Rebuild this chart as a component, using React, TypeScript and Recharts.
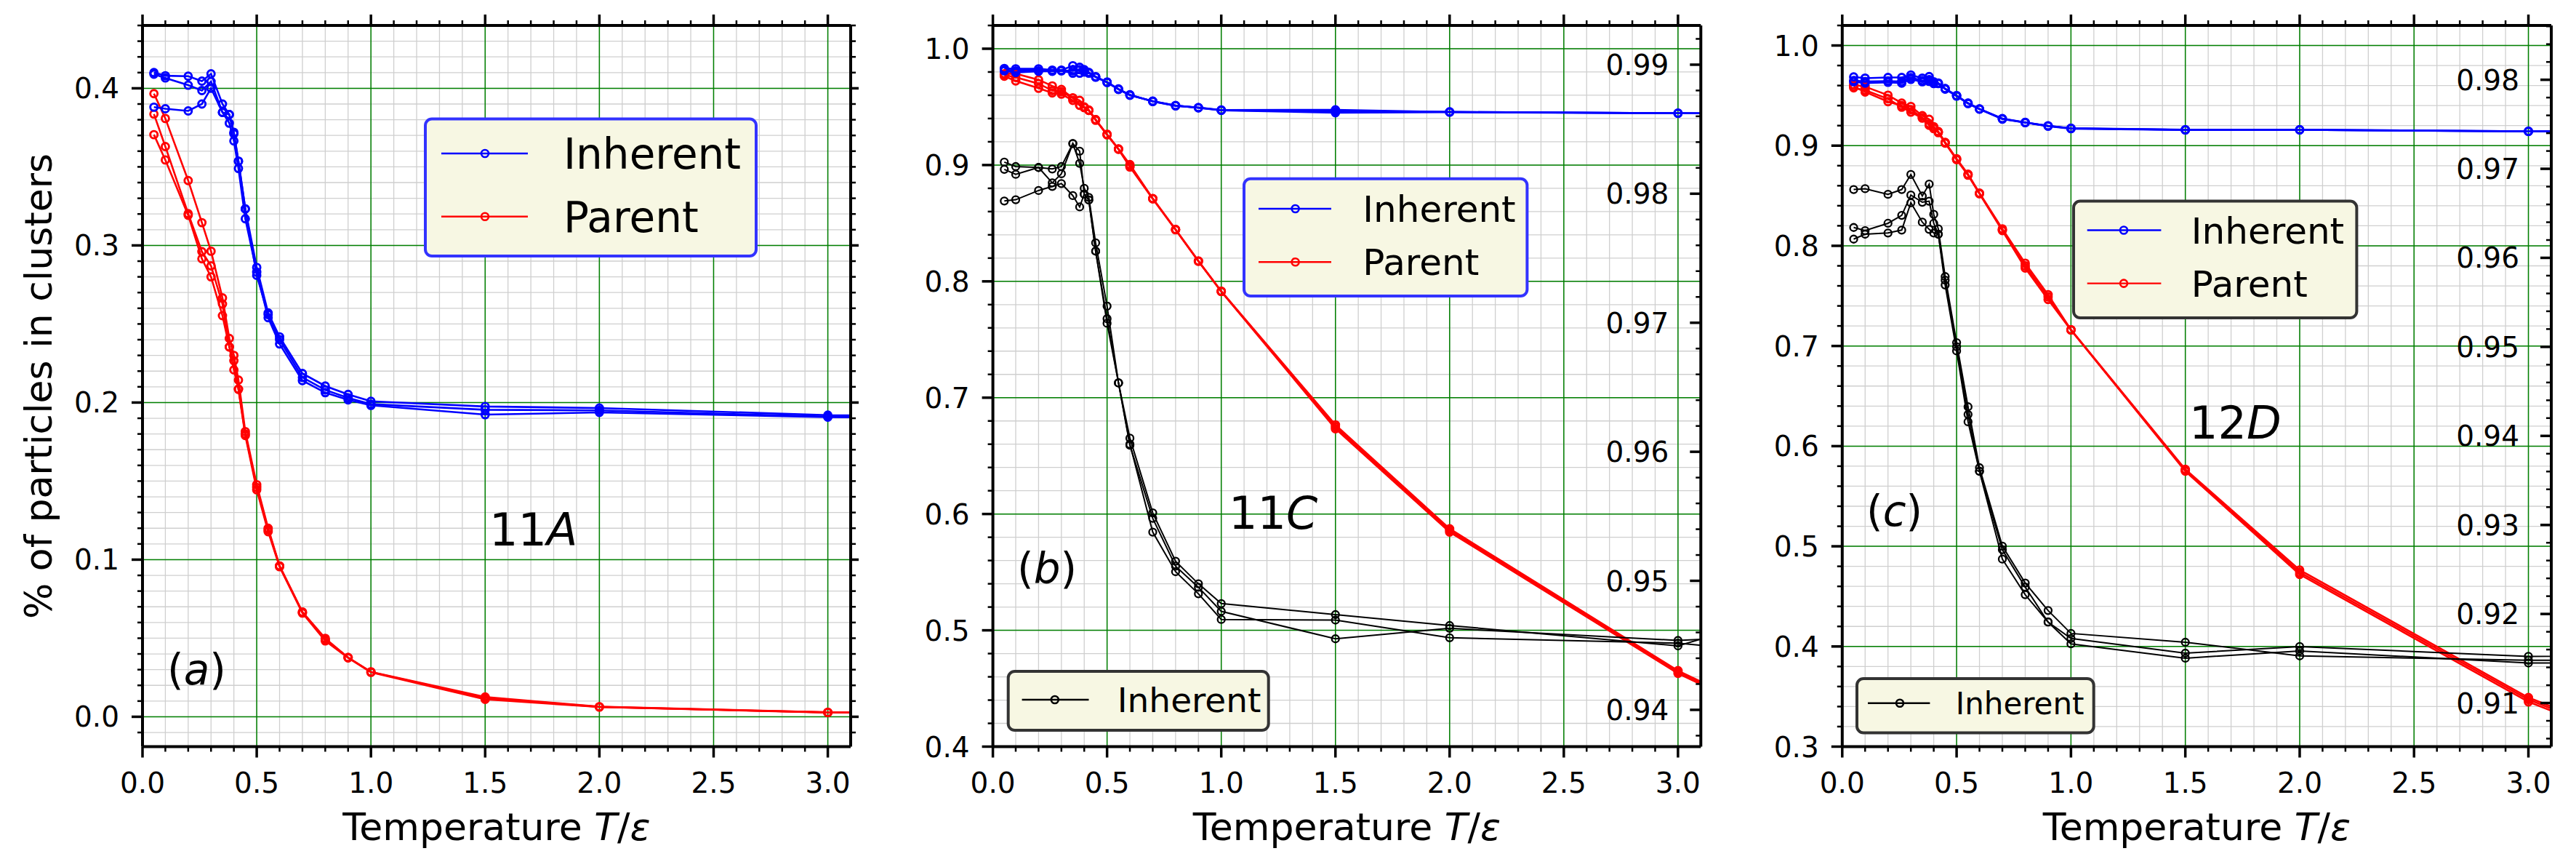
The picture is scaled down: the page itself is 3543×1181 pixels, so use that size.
import { CartesianGrid, Line, LineChart, XAxis, YAxis } from "recharts";

const FONT = "'DejaVu Sans', sans-serif";

// temperatures T/eps shared by every run (4.0 lies past the right edge)
const temps = [0.05, 0.1, 0.2, 0.26, 0.3, 0.35, 0.38, 0.4, 0.42, 0.45, 0.5, 0.55, 0.6, 0.7, 0.8, 0.9, 1.0, 1.5, 2.0, 3.0, 4.0];

// (a) 11A
const aInherent1 = [0.41, 0.408, 0.4077, 0.4046, 0.4092, 0.39, 0.3833, 0.372, 0.3536, 0.3232, 0.286, 0.257, 0.2418, 0.2185, 0.2105, 0.2052, 0.2008, 0.1975, 0.1965, 0.192, 0.191];
const aInherent2 = [0.409, 0.4066, 0.402, 0.3986, 0.4043, 0.3847, 0.3778, 0.3665, 0.349, 0.317, 0.283, 0.254, 0.2373, 0.214, 0.2063, 0.2017, 0.1982, 0.1923, 0.1937, 0.1907, 0.19];
const aInherent3 = [0.388, 0.387, 0.3856, 0.39, 0.4, 0.3847, 0.3833, 0.371, 0.3536, 0.3232, 0.281, 0.256, 0.24, 0.216, 0.208, 0.203, 0.199, 0.1954, 0.195, 0.191, 0.1905];
const aParent1 = [0.3966, 0.3808, 0.3413, 0.3145, 0.2963, 0.2666, 0.2408, 0.23, 0.2143, 0.1815, 0.1477, 0.12, 0.096, 0.0667, 0.0499, 0.0377, 0.0286, 0.0126, 0.0064, 0.0028, 0.002];
const aParent2 = [0.3836, 0.3629, 0.3202, 0.296, 0.287, 0.2627, 0.2354, 0.2266, 0.2085, 0.179, 0.1445, 0.1178, 0.0955, 0.066, 0.0483, 0.0375, 0.0283, 0.0111, 0.0062, 0.0027, 0.002];
const aParent3 = [0.3705, 0.3544, 0.3192, 0.2915, 0.28, 0.2553, 0.2354, 0.2208, 0.2085, 0.18, 0.146, 0.119, 0.096, 0.0665, 0.049, 0.0377, 0.0285, 0.012, 0.0063, 0.0028, 0.002];

// (b) 11C
const bInherent1 = [0.983, 0.9827, 0.9827, 0.9816, 0.9816, 0.9854, 0.984, 0.982, 0.9796, 0.976, 0.9712, 0.9654, 0.9604, 0.9546, 0.951, 0.9494, 0.9473, 0.9475, 0.9456, 0.9446, 0.944];
const bInherent2 = [0.981, 0.9795, 0.9806, 0.9806, 0.981, 0.979, 0.979, 0.98, 0.979, 0.9755, 0.971, 0.965, 0.96, 0.955, 0.9512, 0.9492, 0.947, 0.945, 0.9455, 0.9445, 0.944];
const bInherent3 = [0.982, 0.981, 0.981, 0.981, 0.9812, 0.981, 0.982, 0.981, 0.9795, 0.9758, 0.9713, 0.9652, 0.9602, 0.9548, 0.951, 0.9493, 0.9472, 0.946, 0.9457, 0.9446, 0.944];
const bParent1 = [0.9785, 0.9785, 0.9733, 0.968, 0.965, 0.9577, 0.9556, 0.9494, 0.9473, 0.939, 0.9264, 0.9139, 0.9004, 0.8712, 0.8446, 0.8175, 0.7915, 0.6766, 0.5873, 0.4653, 0.372];
const bParent2 = [0.9775, 0.9754, 0.97, 0.964, 0.963, 0.9577, 0.9514, 0.95, 0.947, 0.9385, 0.926, 0.9135, 0.8983, 0.871, 0.8444, 0.8173, 0.7913, 0.6733, 0.5845, 0.463, 0.37];
const bParent3 = [0.9764, 0.9723, 0.966, 0.962, 0.961, 0.9556, 0.9514, 0.9494, 0.947, 0.939, 0.9262, 0.9137, 0.899, 0.8711, 0.8445, 0.8174, 0.7914, 0.675, 0.586, 0.4645, 0.371];
const bTwin1 = [0.9025, 0.8987, 0.8979, 0.8966, 0.8987, 0.9185, 0.9014, 0.88, 0.8722, 0.8331, 0.7787, 0.7127, 0.6652, 0.601, 0.5594, 0.54, 0.523, 0.5135, 0.5041, 0.4866, 0.545];
const bTwin2 = [0.8963, 0.892, 0.8979, 0.8847, 0.8925, 0.9185, 0.9119, 0.875, 0.87, 0.826, 0.7679, 0.7127, 0.6591, 0.5963, 0.5551, 0.537, 0.5163, 0.4927, 0.5017, 0.4913, 0.5];
const bTwin3 = [0.8691, 0.8702, 0.8781, 0.8816, 0.8841, 0.8737, 0.864, 0.875, 0.87, 0.826, 0.764, 0.7127, 0.66, 0.5844, 0.5504, 0.5314, 0.5093, 0.5088, 0.4936, 0.489, 0.47];

// (c) 12D
const cInherent1 = [0.9686, 0.9674, 0.9681, 0.9681, 0.9705, 0.9674, 0.969, 0.9638, 0.9625, 0.957, 0.95, 0.9425, 0.9367, 0.927, 0.9232, 0.9198, 0.9174, 0.9159, 0.9159, 0.9143, 0.914];
const cInherent2 = [0.9638, 0.9625, 0.9633, 0.9625, 0.9662, 0.9638, 0.9642, 0.962, 0.962, 0.9565, 0.9495, 0.942, 0.9365, 0.9265, 0.923, 0.9195, 0.917, 0.9157, 0.9158, 0.9142, 0.914];
const cInherent3 = [0.965, 0.964, 0.9645, 0.964, 0.968, 0.965, 0.966, 0.963, 0.9622, 0.9568, 0.9498, 0.9423, 0.9366, 0.9268, 0.9231, 0.9197, 0.9172, 0.9158, 0.9158, 0.9143, 0.914];
const cParent1 = [0.9609, 0.9589, 0.9504, 0.9425, 0.9391, 0.93, 0.9263, 0.919, 0.9142, 0.9033, 0.887, 0.8715, 0.8526, 0.8169, 0.7826, 0.7512, 0.7162, 0.5768, 0.4763, 0.349, 0.26];
const cParent2 = [0.9577, 0.9553, 0.9468, 0.9384, 0.9335, 0.9275, 0.9203, 0.917, 0.913, 0.9025, 0.886, 0.8705, 0.852, 0.8152, 0.7778, 0.7464, 0.716, 0.575, 0.4719, 0.3447, 0.256];
const cParent3 = [0.959, 0.9536, 0.9439, 0.94, 0.936, 0.928, 0.922, 0.918, 0.9135, 0.903, 0.8865, 0.871, 0.8523, 0.816, 0.78, 0.749, 0.7161, 0.576, 0.474, 0.347, 0.258];
const cTwin1 = [0.8562, 0.857, 0.8514, 0.8562, 0.8712, 0.8497, 0.8616, 0.8314, 0.8169, 0.7693, 0.7033, 0.6393, 0.5785, 0.5002, 0.4633, 0.4359, 0.413, 0.4042, 0.3906, 0.3862, 0.386];
const cTwin2 = [0.8183, 0.8152, 0.8225, 0.8304, 0.8507, 0.8435, 0.8446, 0.8225, 0.8116, 0.7657, 0.6993, 0.6316, 0.5749, 0.4966, 0.4593, 0.4244, 0.408, 0.3933, 0.3999, 0.3901, 0.392];
const cTwin3 = [0.8067, 0.8116, 0.8128, 0.8157, 0.843, 0.8236, 0.8164, 0.8128, 0.8116, 0.7609, 0.6951, 0.6243, 0.5749, 0.4872, 0.4517, 0.4244, 0.4026, 0.3883, 0.3955, 0.3835, 0.383];

// ticks
const xMajor = [0, 0.5, 1, 1.5, 2, 2.5, 3];
const xMinor = Array.from({ length: 31 }, (_, i) => i / 10);
const aYMajor = [0, 0.1, 0.2, 0.3, 0.4];
const aYMinor = Array.from({ length: 46 }, (_, i) => (i - 1) / 100);
const bYMajor = [0.4, 0.5, 0.6, 0.7, 0.8, 0.9, 1.0];
const bYMinor = Array.from({ length: 32 }, (_, i) => (20 + i) / 50);
const cYMajor = [0.3, 0.4, 0.5, 0.6, 0.7, 0.8, 0.9, 1.0];
const cYMinor = Array.from({ length: 37 }, (_, i) => (15 + i) / 50);
const bRightMajor = [0.94, 0.95, 0.96, 0.97, 0.98, 0.99];
const bRightMinor = Array.from({ length: 28 }, (_, i) => (469 + i) / 500);
const cRightMajor = [0.91, 0.92, 0.93, 0.94, 0.95, 0.96, 0.97, 0.98];
const cRightMinor = Array.from({ length: 41 }, (_, i) => (453 + i) / 500);

const BLUE = "#0000ff";
const RED = "#ff0000";
const BLACK = "#000000";

const near = (v: number, list: number[]) => list.some((m) => Math.abs(m - v) < 1e-6);
const spine = { stroke: "#000", strokeWidth: 4 };

function xTick(dir: number, labels: boolean) {
  return (p: any) => {
    const v = p.payload.value;
    const major = near(v, xMajor);
    return (
      <g>
        <line x1={p.x} y1={p.y} x2={p.x} y2={p.y + dir * (major ? 15 : 7)} stroke="#000" strokeWidth={major ? 3.5 : 2.5} />
        {labels && major && (
          <text x={p.x} y={p.y + 63} textAnchor="middle" fontFamily={FONT} fontSize={39} fill="#000">
            {v.toFixed(1)}
          </text>
        )}
      </g>
    );
  };
}

function yTick(majors: number[], dir: number, label: "out" | "in" | "none", digits: number) {
  return (p: any) => {
    const v = p.payload.value;
    const major = near(v, majors);
    return (
      <g>
        <line x1={p.x} y1={p.y} x2={p.x + dir * (major ? 15 : 7)} y2={p.y} stroke="#000" strokeWidth={major ? 3.5 : 2.5} />
        {label === "out" && major && (
          <text x={p.x - 32} y={p.y + 14} textAnchor="end" fontFamily={FONT} fontSize={39} fill="#000">
            {v.toFixed(digits)}
          </text>
        )}
        {label === "in" && major && (
          <text x={p.x - 44} y={p.y + 14} textAnchor="end" fontFamily={FONT} fontSize={39} fill="#000">
            {v.toFixed(digits)}
          </text>
        )}
      </g>
    );
  };
}

type Series = { key: string; values: number[]; color: string };

type PanelProps = {
  left: number;
  margin: { top: number; right: number; bottom: number; left: number };
  series: Series[];
  yDomain: [number, number];
  yTicks: number[];
  yMajor: number[];
  rightDomain?: [number, number];
  rightTicks?: number[];
  rightMajor?: number[];
};

function Panel(props: PanelProps) {
  const rows = temps.map((t, i) => {
    const row: Record<string, number> = { t };
    props.series.forEach((s) => {
      row[s.key] = s.values[i];
    });
    return row;
  });
  const twin = !!props.rightDomain;

  return (
    <div style={{ position: "absolute", left: props.left, top: 0 }}>
      <LineChart width={1181} height={1181} data={rows} margin={props.margin}>
        <CartesianGrid stroke="#cfcfcf" strokeWidth={1.3} />
        <CartesianGrid stroke="#008000" strokeWidth={1.5} horizontalValues={props.yMajor} verticalValues={xMajor} />
        <XAxis
          dataKey="t"
          type="number"
          domain={[0, 3.1]}
          allowDataOverflow
          ticks={xMinor}
          interval={0}
          tickSize={0}
          tickMargin={0}
          tickLine={false}
          axisLine={spine}
          height={60}
          tick={xTick(1, true)}
        />
        <XAxis
          xAxisId="top"
          orientation="top"
          dataKey="t"
          type="number"
          domain={[0, 3.1]}
          allowDataOverflow
          ticks={xMinor}
          interval={0}
          tickSize={0}
          tickMargin={0}
          tickLine={false}
          axisLine={spine}
          height={1}
          tick={xTick(-1, false)}
        />
        <YAxis
          type="number"
          domain={props.yDomain}
          allowDataOverflow
          ticks={props.yTicks}
          interval={0}
          tickSize={0}
          tickMargin={0}
          tickLine={false}
          axisLine={spine}
          width={100}
          tick={yTick(props.yMajor, -1, "out", 1)}
        />
        {twin ? (
          <YAxis
            yAxisId="right"
            orientation="right"
            type="number"
            domain={props.rightDomain}
            allowDataOverflow
            ticks={props.rightTicks}
            interval={0}
            tickSize={0}
            tickMargin={0}
            tickLine={false}
            axisLine={spine}
            width={1}
            tick={yTick(props.rightMajor || [], -1, "in", 2)}
          />
        ) : (
          <YAxis
            yAxisId="right"
            orientation="right"
            type="number"
            domain={props.yDomain}
            allowDataOverflow
            ticks={props.yTicks}
            interval={0}
            tickSize={0}
            tickMargin={0}
            tickLine={false}
            axisLine={spine}
            width={1}
            tick={yTick(props.yMajor, 1, "none", 1)}
          />
        )}
        {props.series.map((s) => {
          const dark = s.color === BLACK;
          return (
            <Line
              key={s.key}
              type="linear"
              dataKey={s.key}
              stroke={s.color}
              strokeWidth={dark ? 2 : 2.6}
              dot={{ r: 5, stroke: s.color, strokeWidth: dark ? 2.3 : 2.9, fill: "none" }}
              activeDot={false}
              isAnimationActive={false}
            />
          );
        })}
      </LineChart>
    </div>
  );
}

function LegendRow({ y, x0, x1, xm, xt, color, label, fs }: any) {
  return (
    <g>
      <line x1={x0} y1={y} x2={x1} y2={y} stroke={color} strokeWidth={2.4} />
      <circle cx={xm} cy={y} r={5} stroke={color} strokeWidth={2.6} fill="none" />
      <text x={xt} y={y + fs * 0.36} fontFamily={FONT} fontSize={fs} fill="#000">
        {label}
      </text>
    </g>
  );
}

function Frame({ x, y, w, h, edge }: any) {
  return <rect x={x} y={y} width={w} height={h} rx={9} fill="#f7f7e3" stroke={edge} strokeWidth={4} />;
}

function XLabel({ cx }: { cx: number }) {
  return (
    <text x={cx} y={1155} textAnchor="middle" fontFamily={FONT} fontSize={52} fill="#000">
      Temperature <tspan fontStyle="italic">T</tspan>/<tspan fontStyle="italic">ε</tspan>
    </text>
  );
}

function Tag({ x, y, pre, it, post, fs }: any) {
  return (
    <text x={x} y={y} fontFamily={FONT} fontSize={fs} fill="#000">
      {pre}
      <tspan fontStyle="italic">{it}</tspan>
      {post}
    </text>
  );
}

export default function App() {
  return (
    <div style={{ position: "absolute", left: 0, top: 0, width: 3543, height: 1181, background: "#fff" }}>
      <Panel
        left={0}
        margin={{ top: 34, right: 10, bottom: 94.5, left: 96 }}
        series={[
          { key: "p1", values: aParent1, color: RED },
          { key: "p2", values: aParent2, color: RED },
          { key: "p3", values: aParent3, color: RED },
          { key: "i1", values: aInherent1, color: BLUE },
          { key: "i2", values: aInherent2, color: BLUE },
          { key: "i3", values: aInherent3, color: BLUE },
        ]}
        yDomain={[-0.019, 0.44]}
        yTicks={aYMinor}
        yMajor={aYMajor}
      />
      <Panel
        left={1181}
        margin={{ top: 34, right: 21.7, bottom: 94.5, left: 84.6 }}
        series={[
          { key: "p1", values: bParent1, color: RED },
          { key: "p2", values: bParent2, color: RED },
          { key: "p3", values: bParent3, color: RED },
          { key: "i1", values: bInherent1, color: BLUE },
          { key: "i2", values: bInherent2, color: BLUE },
          { key: "i3", values: bInherent3, color: BLUE },
          { key: "k1", values: bTwin1, color: BLACK },
          { key: "k2", values: bTwin2, color: BLACK },
          { key: "k3", values: bTwin3, color: BLACK },
        ]}
        yDomain={[0.4, 1.02]}
        yTicks={bYMinor}
        yMajor={bYMajor}
        rightDomain={[0.93715, 0.99304]}
        rightTicks={bRightMinor}
        rightMajor={bRightMajor}
      />
      <Panel
        left={2362}
        margin={{ top: 34, right: 33, bottom: 94.5, left: 71.8 }}
        series={[
          { key: "p1", values: cParent1, color: RED },
          { key: "p2", values: cParent2, color: RED },
          { key: "p3", values: cParent3, color: RED },
          { key: "i1", values: cInherent1, color: BLUE },
          { key: "i2", values: cInherent2, color: BLUE },
          { key: "i3", values: cInherent3, color: BLUE },
          { key: "k1", values: cTwin1, color: BLACK },
          { key: "k2", values: cTwin2, color: BLACK },
          { key: "k3", values: cTwin3, color: BLACK },
        ]}
        yDomain={[0.3, 1.02]}
        yTicks={cYMinor}
        yMajor={cYMajor}
        rightDomain={[0.9051, 0.9861]}
        rightTicks={cRightMinor}
        rightMajor={cRightMajor}
      />
      <svg
        width={3543}
        height={1181}
        style={{ position: "absolute", left: 0, top: 0, pointerEvents: "none" }}
      >
        {/* axis labels */}
        <text transform="translate(71,531) rotate(-90)" textAnchor="middle" fontFamily={FONT} fontSize={52} fill="#000">
          % of particles in clusters
        </text>
        <XLabel cx={683} />
        <XLabel cx={1852.5} />
        <XLabel cx={3021.4} />

        {/* panel tags */}
        <Tag x={673} y={750} pre="11" it="A" post="" fs={62} />
        <Tag x={230} y={941} pre="(" it="a" post=")" fs={58} />
        <Tag x={1690} y={727} pre="11" it="C" post="" fs={62} />
        <Tag x={1399} y={802} pre="(" it="b" post=")" fs={58} />
        <Tag x={3011} y={603} pre="12" it="D" post="" fs={62} />
        <Tag x={2567} y={723} pre="(" it="c" post=")" fs={58} />

        {/* legend (a) */}
        <Frame x={585} y={163.5} w={455} h={188.5} edge="#3333ff" />
        <LegendRow y={211} x0={607} x1={726} xm={667} xt={775} color={BLUE} label="Inherent" fs={58} />
        <LegendRow y={297.7} x0={607} x1={726} xm={667} xt={775} color={RED} label="Parent" fs={58} />

        {/* legends (b) */}
        <Frame x={1711} y={245.7} w={389.4} h={161.3} edge="#3333ff" />
        <LegendRow y={287} x0={1731} x1={1831} xm={1781.6} xt={1874.3} color={BLUE} label="Inherent" fs={50} />
        <LegendRow y={360.2} x0={1731} x1={1831} xm={1781.6} xt={1874.3} color={RED} label="Parent" fs={50} />
        <Frame x={1386.7} y={923} w={358} h={81} edge="#333333" />
        <LegendRow y={962} x0={1405.6} x1={1497.5} xm={1450.8} xt={1536.7} color={BLACK} label="Inherent" fs={47} />

        {/* legends (c) */}
        <Frame x={2852} y={276.6} w={389.4} h={160.4} edge="#333333" />
        <LegendRow y={316.5} x0={2870.7} x1={2972.4} xm={2921} xt={3013.8} color={BLUE} label="Inherent" fs={50} />
        <LegendRow y={389.6} x0={2870.7} x1={2972.4} xm={2921} xt={3013.8} color={RED} label="Parent" fs={50} />
        <Frame x={2554} y={933} w={325.7} h={74.5} edge="#333333" />
        <LegendRow y={966.8} x0={2569} x1={2654.4} xm={2613} xt={2689.8} color={BLACK} label="Inherent" fs={42} />
      </svg>
    </div>
  );
}
